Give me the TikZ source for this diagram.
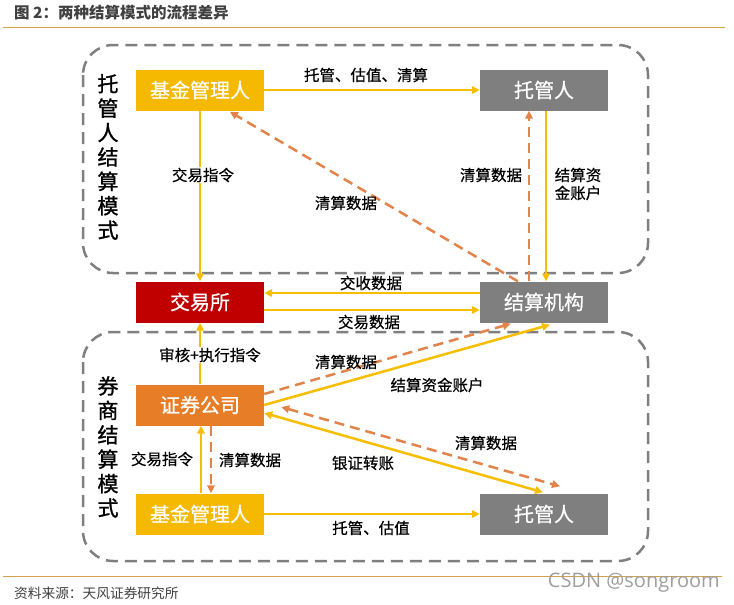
\documentclass[tikz,border=0pt]{standalone}
\usepackage{fontspec}
\setmainfont{Noto Sans CJK SC}
\newfontfamily\medf{Noto Sans CJK SC}[FakeBold=0.6]
\newfontfamily\semif{Noto Sans CJK SC}[FakeBold=1.2]
\newfontfamily\latinf{Open Sans}
\usetikzlibrary{arrows.meta,calc}
\definecolor{ybox}{HTML}{F4B900}
\definecolor{gbox}{HTML}{7F7F7F}
\definecolor{rbox}{HTML}{C00000}
\definecolor{obox}{HTML}{E87D28}
\definecolor{yline}{HTML}{F7BE00}
\definecolor{oline}{HTML}{E2834A}
\definecolor{rule}{HTML}{D4A04A}
\definecolor{titlec}{HTML}{404040}
\tikzset{
  boxn/.style={minimum width=128pt,minimum height=41pt,inner sep=0pt,text=white,font=\medf\fontsize{20}{22}\selectfont},
  solidarr/.style={draw=yline,line width=2.5pt,-{Triangle[length=8pt,width=7.5pt]}},
  dasharr/.style={draw=oline,line width=2.5pt,dash pattern=on 10pt off 6pt,-{Triangle[length=8pt,width=7.5pt]}},
  lab/.style={font=\medf\fontsize{15.5}{18}\selectfont,text=black,inner sep=1pt},
  frame/.style={draw=gbox,line width=2.5pt,dash pattern=on 12pt off 7pt,rounded corners=30pt},
  vlab/.style={font=\semif\fontsize{21}{24.4}\selectfont,align=center,inner sep=0pt}
}
\begin{document}
\begin{tikzpicture}[x=1pt,y=-1pt]
\useasboundingbox (0,0) rectangle (734,605);
% title and rules
\node[anchor=west,font=\fontsize{15.5}{18}\selectfont\bfseries,text=titlec,inner sep=0pt] (title) at (14,13) {图 2：两种结算模式的流程差异};
\draw[rule,line width=1pt] (3,27) -- (725,27);
\draw[rule,line width=1pt] (3,576) -- (722,576);
\node[anchor=west,font=\fontsize{13.7}{16}\selectfont,text=titlec,inner sep=0pt] (src) at (14,593) {资料来源：天风证券研究所};
\node[anchor=east,font=\latinf\fontsize{20}{22}\selectfont,text=black!38,inner sep=0pt] (csdn) at (720,583) {CSDN @songroom};
% frames
\draw[frame] (83,45) rectangle (648,273);
\draw[frame] (83,332) rectangle (648,561);
\node[vlab] (v1) at (108,157) {托\\管\\人\\结\\算\\模\\式};
\node[vlab] (v2) at (108,447) {券\\商\\结\\算\\模\\式};
% boxes
\node[boxn,fill=ybox] (fundT) at (200,90) {基金管理人};
\node[boxn,fill=gbox] (custT) at (544,90) {托管人};
\node[boxn,fill=rbox] (exch) at (200,302) {交易所};
\node[boxn,fill=gbox] (clear) at (544,302) {结算机构};
\node[boxn,fill=obox] (broker) at (200,405) {证券公司};
\node[boxn,fill=ybox] (fundB) at (200,514) {基金管理人};
\node[boxn,fill=gbox] (custB) at (544,514) {托管人};
% top section connectors
\draw[solidarr] (fundT.east) -- (custT.west);
\node[lab] (l1) at (366,75) {托管、估值、清算};
\draw[solidarr] (fundT.south) -- (exch.north);
\node[lab,fill=white] (l2) at (203,175) {交易指令};
\draw[dasharr] ($(clear.north west)+(38,0)$) -- ($(fundT.south west)+(94,1)$);
\node[lab] (l3) at (346,203) {清算数据};
\draw[dasharr] ($(clear.north)+(-15,0)$) -- ($(custT.south)+(-15,0)$);
\node[lab] (l4) at (491,175) {清算数据};
\draw[solidarr] ($(custT.south)+(2,0)$) -- ($(clear.north)+(2,0)$);
\node[lab,align=center] (l5) at (578,184) {结算资\\金账户};
% exchange <-> clearing
\draw[solidarr] ($(clear.west)+(0,-9)$) -- ($(exch.east)+(0,-9)$);
\node[lab] (l6) at (371,283) {交收数据};
\draw[solidarr] ($(exch.east)+(0,8)$) -- ($(clear.west)+(0,8)$);
\node[lab] (l7) at (369,322) {交易数据};
% bottom section connectors
\draw[solidarr] (broker.north) -- (exch.south);
\node[lab,fill=white] (l8) at (210,355) {审核+执行指令};
\draw[dasharr] ($(broker.east)+(0,-11)$) -- ($(clear.south west)+(31,1)$);
\node[lab] (l9) at (346,362) {清算数据};
\draw[solidarr] (broker.east) -- ($(clear.south)+(6,2)$);
\node[lab] (l10) at (437,385) {结算资金账户};
\draw[solidarr,{Triangle[length=8pt,width=7.5pt]}-{Triangle[length=8pt,width=7.5pt]}] ($(broker.east)+(0,8)$) -- ($(custB.north)+(-1,-1)$);
\node[lab] (l11) at (363,463) {银证转账};
\draw[dasharr,{Triangle[length=8pt,width=7.5pt]}-{Triangle[length=8pt,width=7.5pt]}] ($(broker.east)+(17,2)$) -- ($(custB.north)+(16,-7)$);
\node[lab] (l12) at (486,443) {清算数据};
\draw[solidarr] ($(fundB.north)+(1,0)$) -- ($(broker.south)+(1,0)$);
\node[lab] (l13) at (162,459) {交易指令};
\draw[dasharr] ($(broker.south)+(11,0)$) -- ($(fundB.north)+(11,0)$);
\node[lab] (l14) at (250,460) {清算数据};
\draw[solidarr] (fundB.east) -- (custB.west);
\node[lab] (l15) at (371,528) {托管、估值};
\end{tikzpicture}
\end{document}
